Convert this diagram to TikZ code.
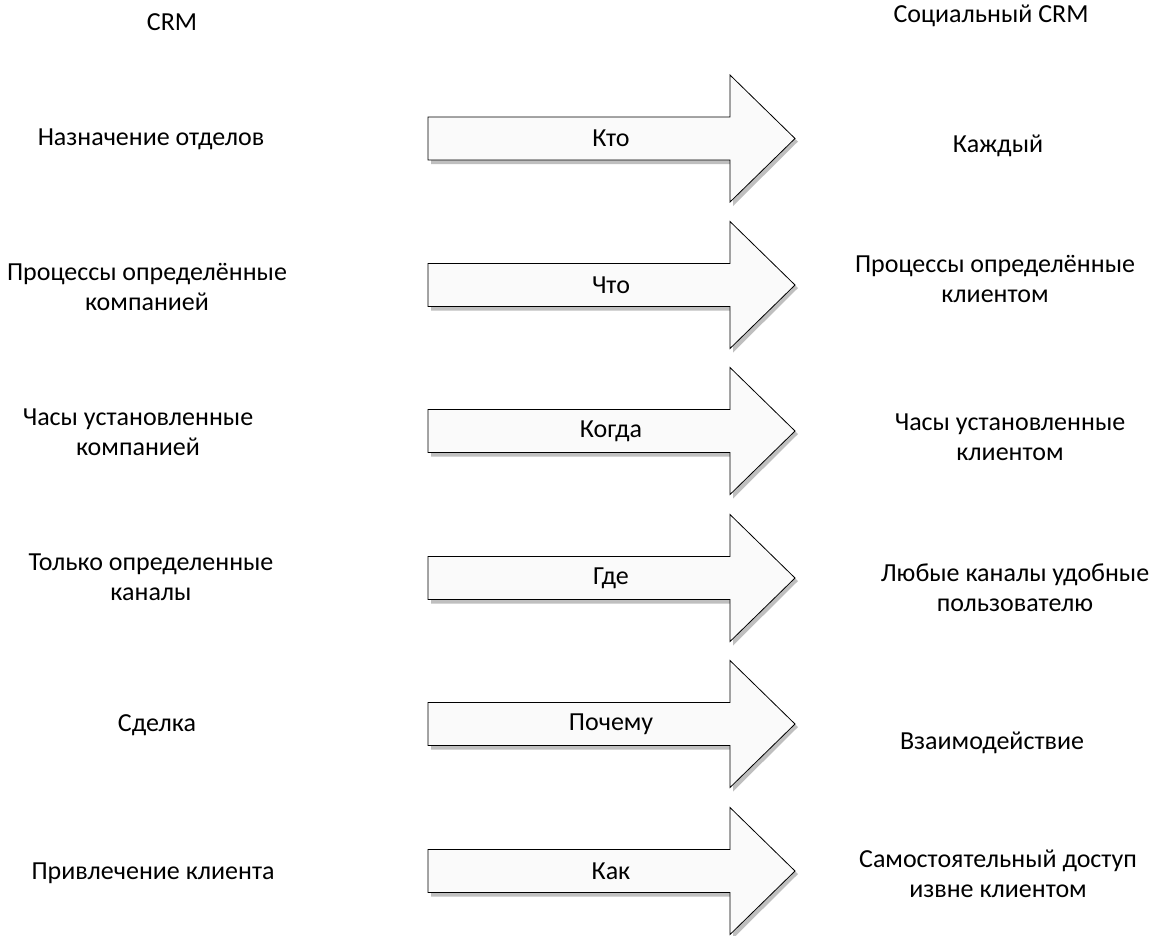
\documentclass[tikz,border=0pt]{standalone}
\usepackage{fontspec}
\setmainfont{Carlito}
\begin{document}
\begin{tikzpicture}[x=1pt,y=-1pt,
  lbl/.style={font=\fontsize{26}{30}\selectfont, align=center, inner sep=0pt},
  arrowbody/.style={draw=black, line width=0.8pt, fill=black!2},
  arrowshadow/.style={fill=black!25, draw=none}]
\useasboundingbox (0,0) rectangle (1154,935);
\foreach \cy/\nm/\txt in {138.5/a1/Кто, 285/a2/Что, 431/a3/Когда, 578/a4/Где, 724/a5/Почему, 871/a6/Как}{
  \fill[arrowshadow] (431,\cy+21.5+4) -- (733,\cy+21.5+4) -- (733,\cy+63.5+4) -- (798,\cy+3) -- (733,\cy-63.5+4) -- (733,\cy+21.5) -- (431,\cy+21.5) -- cycle;
  \draw[arrowbody] (428,\cy-21.5) -- (730,\cy-21.5) -- (730,\cy-63.5) -- (795,\cy) -- (730,\cy+63.5) -- (730,\cy+21.5) -- (428,\cy+21.5) -- cycle;
  \node[lbl] (\nm) at (611,\cy) {\txt};
}
\node[lbl] (crm) at (172,22) {CRM};
\node[lbl] (scrm) at (991,16) {Социальный CRM};
\node[lbl] (l1) at (151,139) {Назначение отделов};
\node[lbl] (l2) at (147,287) {Процессы определённые\\компанией};
\node[lbl] (l3) at (138,432) {Часы установленные\\компанией};
\node[lbl] (l4) at (151,577) {Только определенные\\каналы};
\node[lbl] (l5) at (157,725) {Сделка};
\node[lbl] (l6) at (153,873) {Привлечение клиента};
\node[lbl] (r1) at (998,146) {Каждый};
\node[lbl] (r2) at (995,279) {Процессы определённые\\клиентом};
\node[lbl] (r3) at (1010,437) {Часы установленные\\клиентом};
\node[lbl] (r4) at (1015,588) {Любые каналы удобные\\пользователю};
\node[lbl] (r5) at (992,743) {Взаимодействие};
\node[lbl] (r6) at (998,874) {Самостоятельный доступ\\извне клиентом};
\end{tikzpicture}
\end{document}
